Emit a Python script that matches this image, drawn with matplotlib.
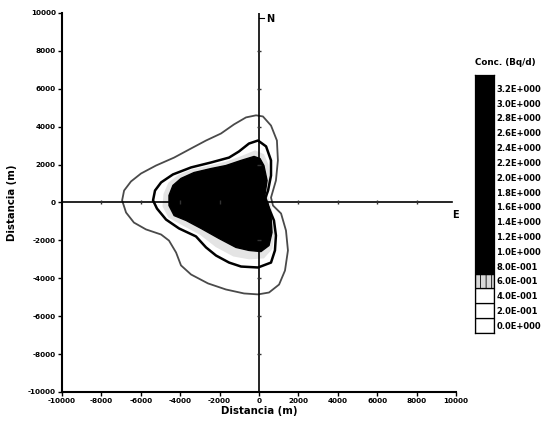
import matplotlib
matplotlib.use("Agg")
import matplotlib.pyplot as plt
from matplotlib.patches import Polygon

plt.rcParams['font.family'] = ['DejaVu Sans']
plt.rcParams['font.weight'] = 'bold'
plt.rcParams['hatch.linewidth'] = 0.6

# --- data (contour outlines, metres) ---
outer_x = [-150, 200, 610, 910, 960, 860, 610, 710, 1120, 1370, 1470, 1320, 1020, 510, -50,
           -760, -1680, -2590, -3450, -3960, -4210, -4570, -4970, -5740, -6350, -6750, -6950,
           -6850, -6500, -5990, -5230, -4310, -3450, -2690, -1930, -1270, -660]
outer_y = [4600, 4540, 4060, 3270, 2220, 1160, 260, -160, -580, -1480, -2530, -3590, -4330, -4750, -4850,
           -4800, -4590, -4270, -3800, -3320, -2640, -2010, -1690, -1420, -1060, -530, 110,
           630, 1110, 1530, 1950, 2370, 2850, 3270, 3640, 4120, 4490]

mid_x = [-50, 360, 610, 610, 460, 300, 510, 760, 860, 810, 610, -50, -910, -1520, -2180,
         -2690, -3200, -4060, -4720, -5180, -5380, -5280, -4970, -4370, -3450, -2440, -1520, -1020, -510]
mid_y = [3270, 2960, 2220, 1420, 630, 160, -320, -950, -1740, -2530, -3170, -3430, -3380, -3170, -2800,
         -2370, -1790, -1370, -900, -320, 110, 630, 1060, 1480, 1850, 2110, 2370, 2690, 3110]

band_x = [-200, 250, 480, 550, 420, 600, 720, 780, 680, 250, -500, -1300, -2200, -3000, -3900,
          -4600, -4900, -4850, -4600, -4100, -3400, -2500, -1700, -900]
band_y = [2750, 2550, 2000, 1200, 450, -100, -750, -1650, -2450, -2950, -3000, -2850, -2350, -1700, -1200,
          -800, -200, 450, 1050, 1450, 1750, 1950, 2150, 2450]

dark_x = [-250, 50, 250, 410, 300, 460, 610, 660, 510, 100, -510, -1170, -2030, -2940, -3700,
          -4310, -4570, -4570, -4370, -3960, -3300, -2440, -1680, -910]
dark_y = [2430, 2320, 1950, 1160, 370, -50, -690, -1580, -2270, -2590, -2530, -2370, -1900, -1370, -950,
          -690, -160, 370, 900, 1270, 1580, 1790, 1950, 2220]

ticks = [-10000, -8000, -6000, -4000, -2000, 0, 2000, 4000, 6000, 8000, 10000]
axis_marks = [-8000, -6000, -4000, -2000, 2000, 4000, 6000, 8000]

cbar_levels = [0.0, 0.2, 0.4, 0.6, 0.8, 1.0, 1.2, 1.4, 1.6, 1.8, 2.0, 2.2, 2.4, 2.6, 2.8, 3.0, 3.2]
cbar_labels = ['0.0E+000', '2.0E-001', '4.0E-001', '6.0E-001', '8.0E-001', '1.0E+000', '1.2E+000',
               '1.4E+000', '1.6E+000', '1.8E+000', '2.0E+000', '2.2E+000', '2.4E+000', '2.6E+000',
               '2.8E+000', '3.0E+000', '3.2E+000']

fig = plt.figure(figsize=(5.54, 4.23), dpi=100)
ax = fig.add_axes([0.112, 0.0733, 0.711, 0.896])
ax.set_xlim(-10000, 10000)
ax.set_ylim(-10000, 10000)

ax.add_patch(Polygon(list(zip(band_x, band_y)), closed=True, facecolor='#e4e4e4',
                     edgecolor='none', hatch='....', zorder=1))
ax.add_patch(Polygon(list(zip(dark_x, dark_y)), closed=True, facecolor='black',
                     edgecolor='black', lw=1.0, joinstyle='round', zorder=2))
ax.add_patch(Polygon(list(zip(mid_x, mid_y)), closed=True, facecolor='none',
                     edgecolor='black', lw=1.8, joinstyle='round', zorder=3))
ax.add_patch(Polygon(list(zip(outer_x, outer_y)), closed=True, facecolor='none',
                     edgecolor='#4a4a4a', lw=1.3, joinstyle='round', zorder=3))

# axes through origin
ax.plot([-10000, 9800], [0, 0], color='black', lw=1.2, zorder=4)
ax.plot([0, 0], [-10000, 10000], color='black', lw=1.2, zorder=4)
ax.plot([0, 250], [9750, 9750], color='black', lw=0.8, zorder=4)
ax.plot(axis_marks, [0] * len(axis_marks), ls='none', marker='|', ms=3, color='#333', zorder=4)
ax.plot([0] * len(axis_marks), axis_marks, ls='none', marker='_', ms=3, color='#333', zorder=4)
ax.text(350, 9700, 'N', fontsize=7, fontweight='bold', ha='left', va='center')
ax.text(9950, -650, 'E', fontsize=7, fontweight='bold', ha='center', va='center')

for s in ['top', 'right']:
    ax.spines[s].set_visible(False)
for s in ['left', 'bottom']:
    ax.spines[s].set_linewidth(1.5)
ax.set_xticks(ticks)
ax.set_yticks(ticks)
ax.set_xticklabels([str(t) for t in ticks])
ax.set_yticklabels([str(t) for t in ticks])
ax.tick_params(labelsize=5.2, width=1, length=3, pad=1.5)
ax.set_xlabel('Distancia (m)', fontsize=7.3, fontweight='bold', labelpad=1)
ax.set_ylabel('Distancia (m)', fontsize=7.3, fontweight='bold', labelpad=8)

# legend bar
cax = fig.add_axes([0.857, 0.213, 0.034, 0.61])
n = len(cbar_levels)
cax.set_xlim(0, 1)
cax.set_ylim(0, n + 0.4)
for i, lv in enumerate(cbar_levels):
    if lv < 0.55:
        cax.bar(0.5, 1, bottom=i, width=1, color='white', edgecolor='black', lw=0.9)
    elif lv < 0.75:
        cax.bar(0.5, 1, bottom=i, width=1, color='#d8d8d8', edgecolor='black', lw=0.9, hatch='|||')
    else:
        cax.bar(0.5, 1, bottom=i, width=1, color='black', edgecolor='black', lw=0.9)
cax.bar(0.5, 0.4, bottom=n, width=1, color='black', edgecolor='black', lw=0.9)
cax.set_xticks([])
cax.yaxis.tick_right()
cax.set_yticks([i + 0.5 for i in range(n)])
cax.set_yticklabels(cbar_labels)
cax.tick_params(axis='y', length=0, labelsize=6, pad=2)
for s in cax.spines.values():
    s.set_linewidth(0.9)
fig.text(0.857, 0.853, 'Conc. (Bq/d)', fontsize=6.3, fontweight='bold', ha='left', va='center')

fig.savefig('out.png', dpi=100)
